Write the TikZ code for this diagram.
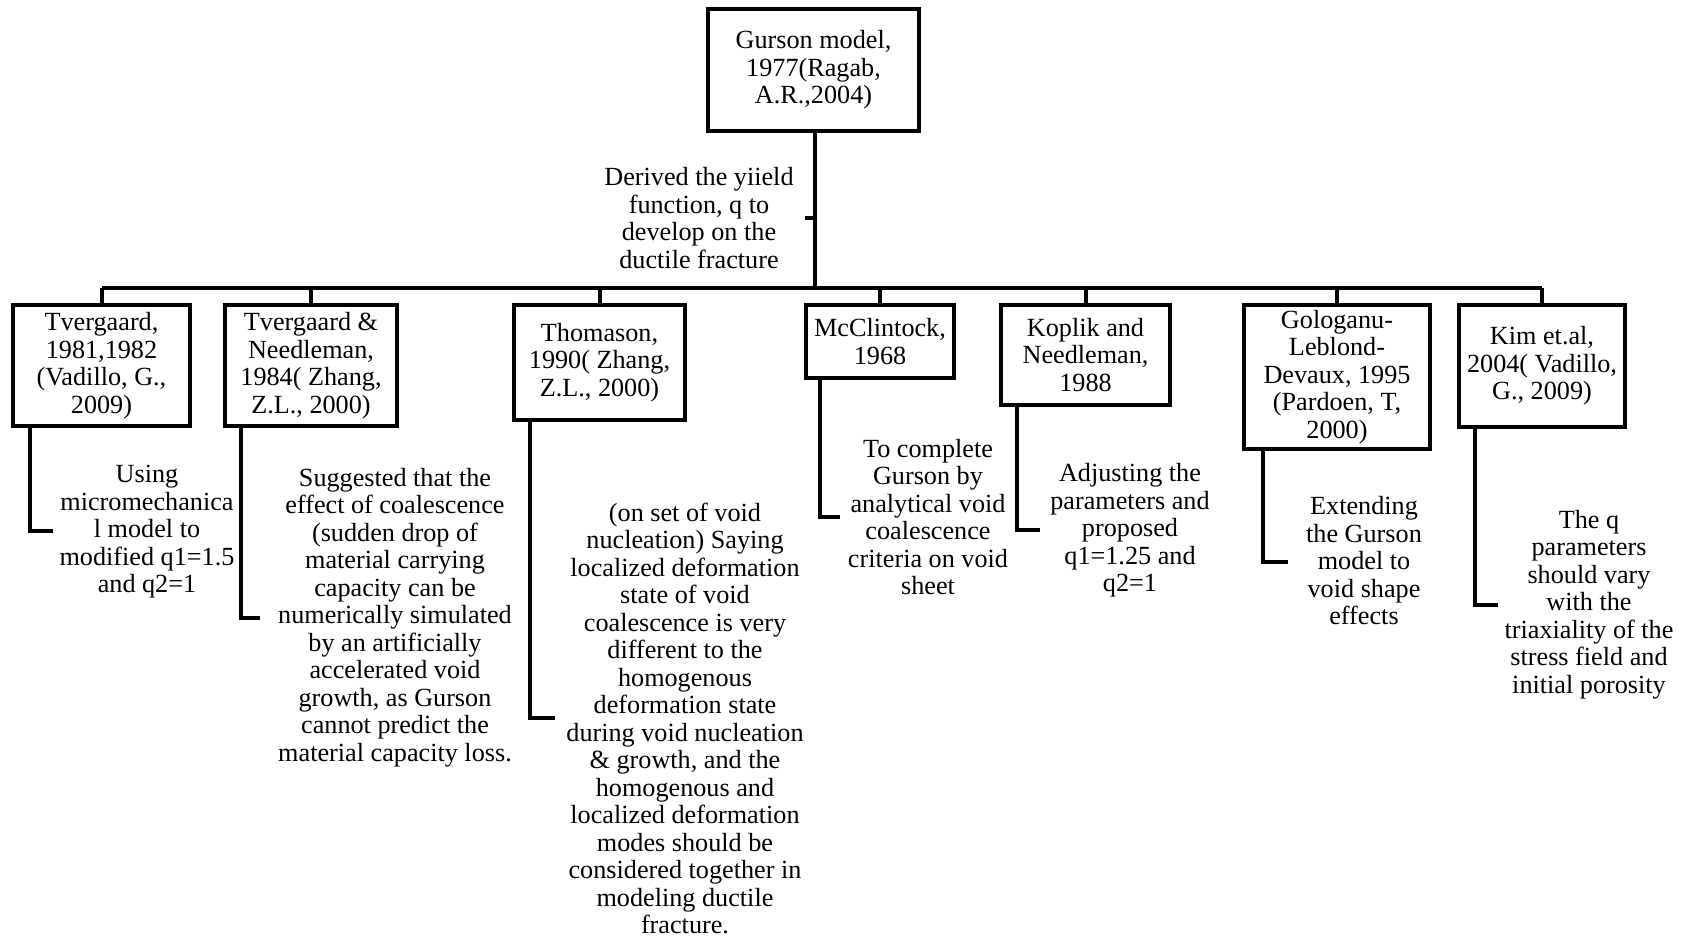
\documentclass[tikz,border=0pt]{standalone}
\usepackage{fontspec}
\setmainfont{Liberation Serif}
\begin{document}
\begin{tikzpicture}[x=0.5pt,y=-0.5pt,
  every node/.style={font=\fontsize{13.1pt}{13.75pt}\selectfont},
  box/.style={draw,line width=2pt,align=center,inner sep=0pt},
  desc/.style={align=center,inner sep=0pt},
  link/.style={line width=2pt,line join=miter}]
\useasboundingbox (0,0) rectangle (1682,938);

% root
\node[box,minimum width=105.5pt,minimum height=61pt] (G) at (813.5,70)
  {Gurson model,\\1977(Ragab,\\A.R.,2004)};
\node[desc] (lbl) at (699,218)
  {Derived the yiield\\function, q to\\develop on the\\ductile fracture};

% second level boxes
\node[box,minimum width=88.5pt,minimum height=60.5pt] (B1) at (101.5,365.5)
  {Tvergaard,\\1981,1982\\(Vadillo, G.,\\2009)};
\node[box,minimum width=86pt,minimum height=60.5pt] (B2) at (311,365.5)
  {Tvergaard \&\\Needleman,\\1984( Zhang,\\Z.L., 2000)};
\node[box,minimum width=85.5pt,minimum height=57.5pt] (B3) at (599.5,362.5)
  {Thomason,\\1990( Zhang,\\Z.L., 2000)};
\node[box,minimum width=74pt,minimum height=36.5pt] (B4) at (880,341.5)
  {McClintock,\\1968};
\node[box,minimum width=84.5pt,minimum height=50pt] (B5) at (1085.5,355)
  {Koplik and\\Needleman,\\1988};
\node[box,minimum width=93pt,minimum height=72pt] (B6) at (1337,377)
  {Gologanu-\\Leblond-\\Devaux, 1995\\(Pardoen, T,\\2000)};
\node[box,minimum width=83pt,minimum height=61pt] (B7) at (1542,366)
  {Kim et.al,\\2004( Vadillo,\\G., 2009)};

% descriptions
\node[desc] (D1) at (147,532)
  {Using\\micromechanica\\l model to\\modified q1=1.5\\and q2=1};
\node[desc] (D2) at (395,617.5)
  {Suggested that the\\effect of coalescence\\(sudden drop of\\material carrying\\capacity can be\\numerically simulated\\by an artificially\\accelerated void\\growth, as Gurson\\cannot predict the\\material capacity loss.};
\node[desc] (D3) at (685,718.5)
  {(on set of void\\nucleation) Saying\\localized deformation\\state of void\\coalescence is very\\different to the\\homogenous\\deformation state\\during void nucleation\\\& growth, and the\\homogenous and\\localized deformation\\modes should be\\considered together in\\modeling ductile\\fracture.};
\node[desc] (D4) at (928,517)
  {To complete\\Gurson by\\analytical void\\coalescence\\criteria on void\\sheet};
\node[desc] (D5) at (1130,530.5)
  {Adjusting the\\parameters and\\proposed\\q1=1.25 and\\q2=1};
\node[desc] (D6) at (1364,561)
  {Extending\\the Gurson\\model to\\void shape\\effects};
\node[desc] (D7) at (1589,604.5)
  {The q\\parameters\\should vary\\with the\\triaxiality of the\\stress field and\\initial porosity};

% tree connectors
\coordinate (hub) at (815,287.5);
\draw[link] (G.south -| hub) -- (hub);
\draw[link] (lbl.east -| hub) -- ([xshift=5.5pt]lbl.east);
\draw[link] (B1.north |- hub) -- (B7.north |- hub);
\foreach \b in {B1,B2,B3,B4,B5,B6,B7}
  \draw[link] (\b.north) -- (\b.north |- hub);

% elbow ends next to each description
\coordinate (e1) at (53,531);
\coordinate (e2) at (260,618);
\coordinate (e3) at (555,718);
\coordinate (e4) at (840,517);
\coordinate (e5) at (1040,530);
\coordinate (e6) at (1288,562);
\coordinate (e7) at (1498,605);

\draw[link] ([xshift=9.5pt]B1.south west) |- (e1);
\draw[link] ([xshift=9pt]B2.south west) |- (e2);
\draw[link] ([xshift=9pt]B3.south west) |- (e3);
\draw[link] ([xshift=8pt]B4.south west) |- (e4);
\draw[link] ([xshift=9pt]B5.south west) |- (e5);
\draw[link] ([xshift=10.5pt]B6.south west) |- (e6);
\draw[link] ([xshift=9pt]B7.south west) |- (e7);
\end{tikzpicture}
\end{document}
